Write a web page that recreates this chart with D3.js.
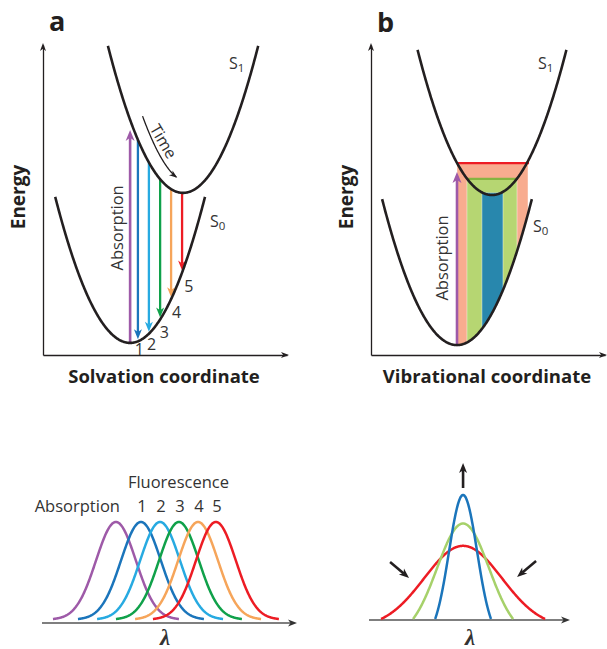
<!DOCTYPE html>
<html>
<head>
<meta charset="utf-8">
<script src="https://cdn.jsdelivr.net/npm/d3@7"></script>
<style>
body { margin: 0; background: #fff; }
text { font-family: "Open Sans", sans-serif; fill: #231f20; }
</style>
</head>
<body>
<div id="chart"></div>
<script>
//Dados (unidades arbitrárias, 0..10)
var potentialsA = [
	{ name: "S0", x0: 3.57, e0: 0.39, k: 0.50, half: 3.07 },
	{ name: "S1", x0: 5.74, e0: 5.23, k: 0.50, half: 3.08 }
];
var potentialsB = [
	{ name: "S0", x0: 3.675, e0: 0.32, k: 0.46, half: 3.2 },
	{ name: "S1", x0: 5.17, e0: 5.16, k: 0.463, half: 3.18 }
];
var absorptionA = { x: 3.57, top: 7.26 };
var absorptionB = { x: 3.675, top: 5.90 };
var emissionX = [3.89, 4.34, 4.80, 5.25, 5.70];
var emissionLabels = ["1", "2", "3", "4", "5"];
var emissionColors = ["#1b75bb", "#27aae1", "#10a14a", "#f6a55a", "#ed1c24"];
var bands = [
	{ x1: 3.675, x2: 6.71, top: 6.19, fill: "#f8ac8f", line: "#ed1c24" },
	{ x1: 4.10, x2: 6.24, top: 5.68, fill: "#b6d672", line: "#86b441" },
	{ x1: 4.74, x2: 5.64, top: 5.23, fill: "#2887ad", line: null }
];
var spectraNames = ["Absorption", "1", "2", "3", "4", "5"];
var spectraCenters = [2.90, 3.88, 4.63, 5.37, 6.12, 6.82];
var spectraColors = ["#9e5aa8", "#1b75bb", "#27aae1", "#10a14a", "#f6a55a", "#ed1c24"];
var spectraSigma = 0.78, spectraExtent = 2.47;
var narrowing = [
	{ color: "#ed1c24", sigma: 1.93, extent: 4.08, height: 0.59 },
	{ color: "#a6d16a", sigma: 1.29, extent: 2.49, height: 0.77 },
	{ color: "#1b75bb", sigma: 0.70, extent: 1.39, height: 1.00 }
];
var narrowingCenter = 4.68;

(function () {
	'use strict';
	var svg = d3.select("#chart").append("svg")
		.attr("width", 607)
		.attr("height", 649);
	var ink = "#231f20";

	//Escalas
	var xA = d3.scaleLinear().domain([0, 10]).range([43, 287]);
	var xB = d3.scaleLinear().domain([0, 10]).range([371, 605]);
	var yE = d3.scaleLinear().domain([0, 10]).range([355, 45]);
	var xL = d3.scaleLinear().domain([0, 10]).range([42, 297]);
	var yL = d3.scaleLinear().domain([0, 1]).range([619, 522]);
	var xR = d3.scaleLinear().domain([0, 10]).range([369, 570]);
	var yR = d3.scaleLinear().domain([0, 1]).range([619, 495]);

	function energy(p, x) { return p.e0 + p.k * (x - p.x0) * (x - p.x0); }
	function bump(c, s, ext, x) {
		var g = Math.exp(-0.5 * (x - c) * (x - c) / (s * s));
		var ge = Math.exp(-0.5 * ext * ext / (s * s));
		return (g - ge) / (1 - ge);
	}

	//Seta com ponta cheia
	function head(g, x, y, ang, len, wid, color) {
		g.append("path")
			.attr("d", "M0,0L" + (-len) + "," + (-wid / 2) + "L" + (-len * 0.72) + ",0L" + (-len) + "," + (wid / 2) + "Z")
			.attr("transform", "translate(" + x + "," + y + ") rotate(" + (ang * 180 / Math.PI) + ")")
			.style("fill", color);
	}
	function arrow(g, x1, y1, x2, y2, color, w, len, wid) {
		var ang = Math.atan2(y2 - y1, x2 - x1);
		g.append("line")
			.attr("x1", x1).attr("y1", y1)
			.attr("x2", x2 - Math.cos(ang) * len * 0.7)
			.attr("y2", y2 - Math.sin(ang) * len * 0.7)
			.style("stroke", color).style("stroke-width", w);
		head(g, x2, y2, ang, len, wid, color);
	}

	//Eixos (sem ticks) com setas
	function axes(g, xs, ys, title) {
		g.append("g")
			.attr("transform", "translate(" + xs.range()[0] + ",0)")
			.call(d3.axisLeft(ys).ticks(0).tickSizeOuter(0));
		g.append("g")
			.attr("transform", "translate(0," + ys.range()[0] + ")")
			.call(d3.axisBottom(xs).ticks(0).tickSizeOuter(0));
		g.selectAll(".domain").style("stroke", ink).style("stroke-width", 1.3);
		head(g, xs.range()[0], ys.range()[1] - 2, -Math.PI / 2, 8, 6, ink);
		head(g, xs.range()[1] + 2, ys.range()[0], 0, 8, 6, ink);
		g.append("text")
			.attr("x", (xs.range()[0] + xs.range()[1]) / 2 - 1)
			.attr("y", 383)
			.attr("text-anchor", "middle")
			.style("font-weight", "bold").style("font-size", "18.5px")
			.text(title);
		g.append("text")
			.attr("transform", "translate(" + (xs.range()[0] - 25) + ",197) rotate(-90)")
			.attr("text-anchor", "middle")
			.attr("dominant-baseline", "central")
			.style("font-weight", "bold").style("font-size", "19px")
			.text("Energy");
	}

	function potential(g, p, xs, ys) {
		var line = d3.line()
			.x(function (d) { return xs(d); })
			.y(function (d) { return ys(energy(p, d)); });
		g.append("path")
			.datum(d3.range(p.x0 - p.half, p.x0 + p.half + 0.001, 0.02))
			.attr("d", line)
			.style("fill", "none").style("stroke", ink).style("stroke-width", 2.6);
	}

	function stateLabel(g, x, y, sub) {
		var t = g.append("text").attr("x", x).attr("y", y).style("font-size", "16px").style("fill", "#333");
		t.append("tspan").text("S");
		t.append("tspan").attr("dy", 3).style("font-size", "11.5px").text(sub);
	}

	function rotLabel(g, x, y, txt) {
		g.append("text")
			.attr("transform", "translate(" + x + "," + y + ") rotate(-90)")
			.attr("text-anchor", "middle")
			.attr("dominant-baseline", "central")
			.style("font-size", "16.5px").style("fill", "#333")
			.text(txt);
	}

	//Painel a
	var ga = svg.append("g");
	ga.append("text").attr("x", 49).attr("y", 31)
		.style("font-weight", "bold").style("font-size", "27px").text("a");
	axes(ga, xA, yE, "Solvation coordinate");
	var s0a = potentialsA[0], s1a = potentialsA[1];
	//Setas de emissão
	emissionX.forEach(function (x, i) {
		var yTop = yE(energy(s1a, x));
		var yTip = yE(energy(s0a, x)) - 2;
		arrow(ga, xA(x), yTop, xA(x), yTip, emissionColors[i], 2.3, 10, 8);
		ga.append("text")
			.attr("x", xA(x) + 1.5 + i * 1.3)
			.attr("y", yTip + 16 + Math.min(i, 2) * 2.5)
			.attr("text-anchor", "middle")
			.style("font-size", "16px").style("fill", "#333")
			.text(emissionLabels[i]);
	});
	arrow(ga, xA(absorptionA.x), yE(energy(s0a, absorptionA.x)), xA(absorptionA.x), yE(absorptionA.top),
		"#9e5aa8", 2.6, 11, 9);
	potentialsA.forEach(function (p) { potential(ga, p, xA, yE); });
	stateLabel(ga, xA(7.62), yE(9.23), "1");
	stateLabel(ga, xA(6.84), yE(4.13), "0");
	rotLabel(ga, xA(3.03), yE(4.10), "Absorption");

	//Seta "Time" paralela a S1
	var offPts = d3.range(3.58, 5.2001, 0.02).map(function (x) {
		var h = 0.01;
		var px = xA(x), py = yE(energy(s1a, x));
		var tx = xA(x + h) - xA(x - h), ty = yE(energy(s1a, x + h)) - yE(energy(s1a, x - h));
		var n = Math.sqrt(tx * tx + ty * ty);
		return [px + 13 * ty / n, py - 13 * tx / n];
	});
	var last = offPts[offPts.length - 1], prev = offPts[offPts.length - 4];
	ga.append("path")
		.datum(offPts.slice(0, offPts.length - 3))
		.attr("d", d3.line())
		.style("fill", "none").style("stroke", ink).style("stroke-width", 1.3);
	head(ga, last[0], last[1], Math.atan2(last[1] - prev[1], last[0] - prev[0]), 8, 6, ink);
	(function () {
		var x = 4.1, h = 0.01;
		var px = xA(x), py = yE(energy(s1a, x));
		var tx = xA(x + h) - xA(x - h), ty = yE(energy(s1a, x + h)) - yE(energy(s1a, x - h));
		var n = Math.sqrt(tx * tx + ty * ty);
		var ang = Math.atan2(ty, tx) * 180 / Math.PI - 5;
		ga.append("text")
			.attr("transform", "translate(" + (px + 23 * ty / n) + "," + (py - 23 * tx / n) + ") rotate(" + ang + ")")
			.attr("text-anchor", "middle")
			.attr("dominant-baseline", "central")
			.style("font-size", "16px").style("fill", "#333")
			.text("Time");
	})();

	//Painel b
	var gb = svg.append("g");
	gb.append("text").attr("x", 377).attr("y", 32)
		.style("font-weight", "bold").style("font-size", "27px").text("b");
	axes(gb, xB, yE, "Vibrational coordinate");
	var s0b = potentialsB[0];
	bands.forEach(function (b) {
		var area = d3.area()
			.x(function (d) { return xB(d); })
			.y0(function (d) { return yE(energy(s0b, d)); })
			.y1(yE(b.top));
		gb.append("path")
			.datum(d3.range(b.x1, b.x2 + 0.001, (b.x2 - b.x1) / 60))
			.attr("d", area)
			.style("fill", b.fill)
			.style("stroke", "rgba(255,255,255,0.55)").style("stroke-width", 0.8);
	});
	bands.forEach(function (b) {
		if (!b.line) { return; }
		gb.append("line")
			.attr("x1", xB(b.x1)).attr("x2", xB(b.x2) + 1)
			.attr("y1", yE(b.top)).attr("y2", yE(b.top))
			.style("stroke", b.line).style("stroke-width", 2.4);
	});
	arrow(gb, xB(absorptionB.x), yE(energy(s0b, absorptionB.x)), xB(absorptionB.x), yE(absorptionB.top),
		"#9e5aa8", 2.6, 11, 9);
	potentialsB.forEach(function (p) { potential(gb, p, xB, yE); });
	stateLabel(gb, xB(7.14), yE(9.23), "1");
	stateLabel(gb, xB(6.92), yE(3.97), "0");
	rotLabel(gb, xB(3.03), yE(3.13), "Absorption");

	//Espectros: deslocamento (esquerda)
	var gl = svg.append("g");
	gl.append("line")
		.attr("x1", xL(0)).attr("x2", xL(10) - 4)
		.attr("y1", yL(0) + 4).attr("y2", yL(0) + 4)
		.style("stroke", "#555").style("stroke-width", 1.6);
	head(gl, xL(10), yL(0) + 4, 0, 9, 7, "#333");
	spectraCenters.forEach(function (c, i) {
		var line = d3.line()
			.x(function (d) { return xL(d); })
			.y(function (d) { return yL(bump(c, spectraSigma, spectraExtent, d)); });
		gl.append("path")
			.datum(d3.range(c - spectraExtent, c + spectraExtent + 0.001, 0.02))
			.attr("d", line)
			.style("fill", "none").style("stroke", spectraColors[i]).style("stroke-width", 2.5);
		gl.append("text")
			.attr("x", i === 0 ? xL(c) + 4 : xL(c) + 1)
			.attr("y", 512)
			.attr("text-anchor", i === 0 ? "end" : "middle")
			.style("font-size", "16.5px").style("fill", "#333")
			.text(spectraNames[i]);
	});
	gl.append("text")
		.attr("x", (xL(spectraCenters[1]) + xL(spectraCenters[5])) / 2)
		.attr("y", 488)
		.attr("text-anchor", "middle")
		.style("font-size", "16.5px").style("fill", "#333")
		.text("Fluorescence");
	gl.append("text")
		.attr("x", xL(4.83)).attr("y", 645)
		.attr("text-anchor", "middle")
		.style("font-family", "'Liberation Serif', serif").style("font-style", "italic")
		.style("font-weight", "bold").style("font-size", "23px").style("fill", "#333")
		.text("λ");

	//Espectros: estreitamento (direita)
	var gr = svg.append("g");
	gr.append("line")
		.attr("x1", xR(0)).attr("x2", xR(10) - 4)
		.attr("y1", yR(0) + 1).attr("y2", yR(0) + 1)
		.style("stroke", "#555").style("stroke-width", 1.6);
	head(gr, xR(10), yR(0) + 1, 0, 9, 7, "#333");
	narrowing.forEach(function (s) {
		var line = d3.line()
			.x(function (d) { return xR(d); })
			.y(function (d) { return yR(s.height * bump(narrowingCenter, s.sigma, s.extent, d)); });
		gr.append("path")
			.datum(d3.range(narrowingCenter - s.extent, narrowingCenter + s.extent + 0.001, 0.02))
			.attr("d", line)
			.style("fill", "none").style("stroke", s.color).style("stroke-width", 2.5);
	});
	var cx = xR(narrowingCenter);
	arrow(gr, cx, yR(1) - 7, cx, yR(1) - 32, "#231f20", 2.6, 10, 8);
	arrow(gr, cx - 73, yR(0) - 57, cx - 54, yR(0) - 41, "#231f20", 2.6, 10, 8);
	arrow(gr, cx + 73, yR(0) - 58, cx + 54, yR(0) - 42, "#231f20", 2.6, 10, 8);
	gr.append("text")
		.attr("x", cx + 7).attr("y", 645)
		.attr("text-anchor", "middle")
		.style("font-family", "'Liberation Serif', serif").style("font-style", "italic")
		.style("font-weight", "bold").style("font-size", "23px").style("fill", "#333")
		.text("λ");
}());
</script>
</body>
</html>
